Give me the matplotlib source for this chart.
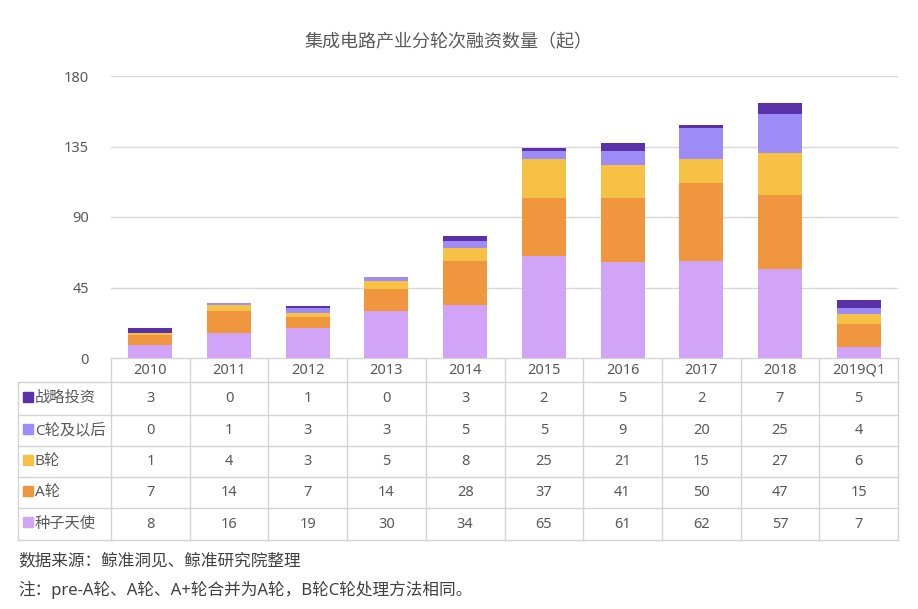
import matplotlib.pyplot as plt
import numpy as np

plt.rcParams['font.family'] = ['Noto Sans', 'Noto Sans CJK SC', 'DejaVu Sans']

years = ['2010', '2011', '2012', '2013', '2014', '2015', '2016', '2017', '2018', '2019Q1']
seed = [8, 16, 19, 30, 34, 65, 61, 62, 57, 7]
round_a = [7, 14, 7, 14, 28, 37, 41, 50, 47, 15]
round_b = [1, 4, 3, 5, 8, 25, 21, 15, 27, 6]
round_c = [0, 1, 3, 3, 5, 5, 9, 20, 25, 4]
strategic = [3, 0, 1, 0, 3, 2, 5, 2, 7, 5]

series = [('种子天使', seed, '#d1a4f8'),
          ('A轮', round_a, '#f0963e'),
          ('B轮', round_b, '#f7c146'),
          ('C轮及以后', round_c, '#9e8cf6'),
          ('战略投资', strategic, '#5b31aa')]

W, H = 918, 609
fig = plt.figure(figsize=(W / 100, H / 100), dpi=100)
txt = '#595959'
grid = '#d9d9d9'
fs = 10.5

# plot area in pixels
x0, x1 = 111, 898
y_zero, y_top = 358, 76
ax = fig.add_axes([x0 / W, 1 - y_zero / H, (x1 - x0) / W, (y_zero - y_top) / H])
x = np.arange(len(years))
bottom = np.zeros(len(years))
for name, vals, col in series:
    ax.bar(x, vals, 0.56, bottom=bottom, color=col, zorder=3)
    bottom += np.array(vals)
ax.set_xlim(-0.5, len(years) - 0.5)
ax.set_ylim(0, 180)
ax.set_yticks([0, 45, 90, 135, 180])
ax.tick_params(axis='y', length=0, pad=16, labelsize=fs, labelcolor=txt)
ax.set_xticks([])
ax.grid(axis='y', color=grid, lw=1, zorder=0)
for s in ax.spines.values():
    s.set_visible(False)

# overlay in pixel coordinates for the table and notes
ov = fig.add_axes([0, 0, 1, 1], zorder=-1)
ov.set_xlim(0, W)
ov.set_ylim(H, 0)
ov.axis('off')

lc = '#d4d4d4'
lab_x0 = 18
row_y = [358, 382, 415, 446, 477, 508, 540]
col_w = (x1 - x0) / len(years)

# horizontal lines
ov.plot([x0, x1], [row_y[0], row_y[0]], color=lc, lw=1)
for yy in row_y[1:]:
    ov.plot([lab_x0, x1], [yy, yy], color=lc, lw=1)
# vertical lines
ov.plot([lab_x0, lab_x0], [row_y[1], row_y[-1]], color=lc, lw=1)
for i in range(len(years) + 1):
    xx = x0 + i * col_w
    ov.plot([xx, xx], [row_y[0], row_y[-1]], color=lc, lw=1)

for i, yr in enumerate(years):
    ov.text(x0 + (i + 0.5) * col_w, (row_y[0] + row_y[1]) / 2, yr,
            ha='center', va='center', fontsize=fs, color=txt)

for r, (name, vals, col) in enumerate(series[::-1]):
    yc = (row_y[r + 1] + row_y[r + 2]) / 2
    ov.add_patch(plt.Rectangle((23, yc - 7), 10, 10, color=col))
    ov.text(35, yc, name, ha='left', va='center', fontsize=11, color=txt)
    for i, v in enumerate(vals):
        ov.text(x0 + (i + 0.5) * col_w, yc, str(v), ha='center', va='center',
                fontsize=fs, color=txt)

fig.text(448 / W, 1 - 42 / H, '集成电路产业分轮次融资数量（起）', ha='center', va='center',
         fontsize=13, color=txt)
fig.text(18 / W, 1 - 561 / H, '数据来源：鲸准洞见、鲸准研究院整理', ha='left', va='center',
         fontsize=12, color='#404040')
fig.text(18 / W, 1 - 590 / H, '注：pre-A轮、A轮、A+轮合并为A轮，B轮C轮处理方法相同。', ha='left',
         va='center', fontsize=12, color='#404040')

fig.savefig('out.png', dpi=100, facecolor='white')
